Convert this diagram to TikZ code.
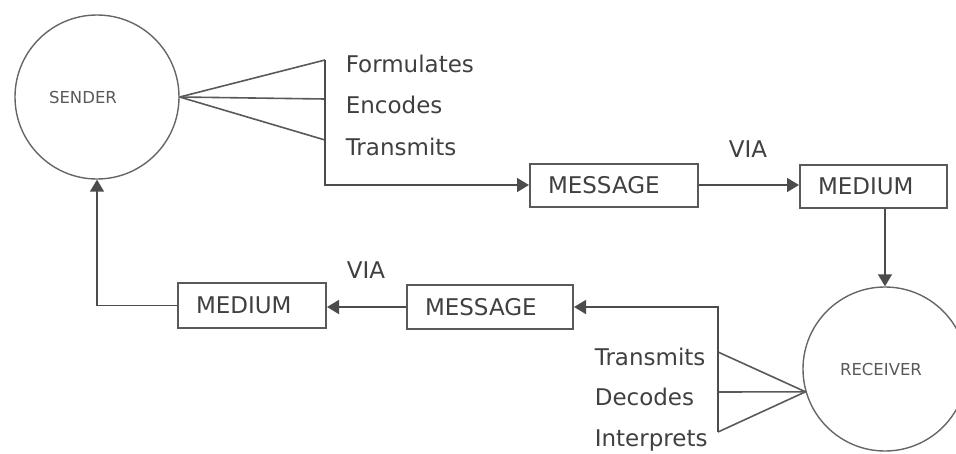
\documentclass[tikz,border=0pt]{standalone}
\usepackage{fontspec}
\setmainfont{DejaVu Sans}
\usetikzlibrary{arrows.meta,calc}
\begin{document}
\begin{tikzpicture}[x=1pt,y=-1pt,
  line width=1.6pt, draw=black!65,
  txt/.style={font=\fontsize{23}{27}\selectfont, text=black!75, inner sep=0pt},
  party/.style={circle, draw=black!60, line width=1.4pt, minimum size=164pt, inner sep=0pt},
  partylabel/.style={font=\fontsize{16.5}{19}\selectfont, text=black!65, inner sep=0pt},
  boxnode/.style={rectangle, draw=black!65, line width=2pt, minimum height=43pt, inner xsep=18pt, inner ysep=0pt, align=left, font=\fontsize{23}{27}\selectfont, text=black!75},
  arr/.style={-{Triangle[length=12pt,width=14pt]}, draw=black!70},
  conn/.style={draw=black!65}
]
\useasboundingbox (0,0) rectangle (956,453);

\node[party, label={[partylabel, xshift=-14pt]center:SENDER}] (sender) at (97,97) {};
\node[party, label={[partylabel, xshift=-4pt]center:RECEIVER}] (receiver) at (885,369) {};

\node[boxnode, text width=132pt] (msg1) at (614,185) {MESSAGE};
\node[boxnode, text width=111pt] (med1) at (873.5,186) {MEDIUM};
\node[boxnode, text width=130pt, minimum height=44pt] (msg2) at (490,307) {MESSAGE};
\node[boxnode, text width=112pt, minimum height=45pt] (med2) at (252,305.5) {MEDIUM};

% sender fan
\coordinate (sapex) at (sender.east);
\coordinate (f1) at (325,60);
\coordinate (f2) at (325,99);
\coordinate (f3) at (325,140);
\draw[conn] (sapex) -- (f1);
\draw[conn] (sapex) -- (f2);
\draw[conn] (sapex) -- (f3);
\draw[arr] (f1) -- (f1 |- msg1.west) -- (msg1.west);

\node[txt, anchor=base west] (t1) at (345,72) {Formulates};
\node[txt, anchor=base west] (t2) at (345,113) {Encodes};
\node[txt, anchor=base west] (t3) at (345,155) {Transmits};

% message -> medium
\draw[arr] (msg1.east) -- (msg1.east -| med1.west);
\node[txt, anchor=base] (via1) at (748,157) {VIA};

% medium -> receiver
\draw[arr] (receiver.north |- med1.south) -- (receiver.north);

% receiver fan
\coordinate (rapex) at (receiver.196);
\coordinate (g1) at (718,352);
\coordinate (g2) at (718,392);
\coordinate (g3) at (718,432);
\draw[conn] (rapex) -- (g1);
\draw[conn] (rapex) -- (g2);
\draw[conn] (rapex) -- (g3);
\draw[arr] (g3) -- (g3 |- msg2.east) -- (msg2.east);

\node[txt, anchor=base west] (r1) at (594,365) {Transmits};
\node[txt, anchor=base west] (r2) at (594,405) {Decodes};
\node[txt, anchor=base west] (r3) at (594,446) {Interprets};

% message -> medium (bottom)
\draw[arr] (msg2.west) -- (msg2.west -| med2.east);
\node[txt, anchor=base] (via2) at (366,278) {VIA};

% medium -> sender
\draw[arr] (med2.west) -- (sender.south |- med2.west) -- (sender.south);
\end{tikzpicture}
\end{document}
